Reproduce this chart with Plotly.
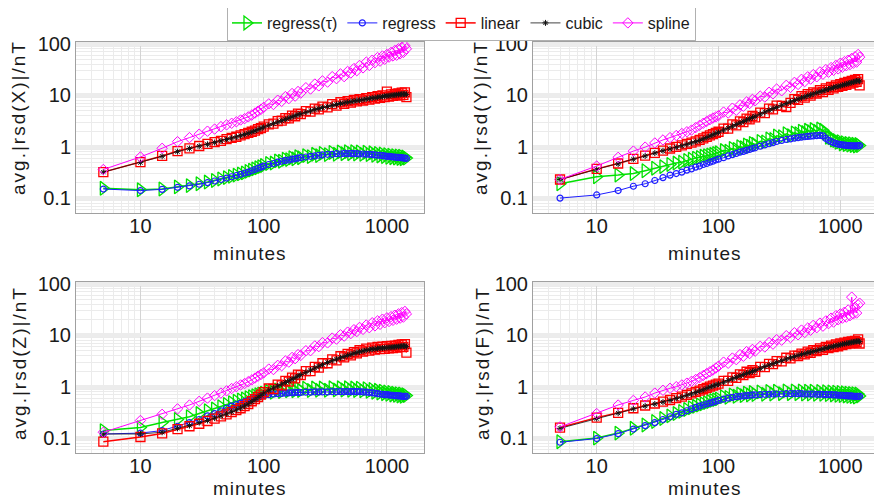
import plotly.graph_objects as go
from plotly.subplots import make_subplots
import math

minutes = [5,10,15,20,25,30,35,40,45,50,55,60,65,70,75,80,85,90,95,100,
           110,120,130,140,150,160,170,180,190,200,
           220,240,260,280,300,
           330,360,390,420,450,480,510,540,570,600,
           640,680,720,760,800,840,880,920,960,1000,
           1040,1080,1120,1160,1200,1240,1280,1320,1360,1400,1440]

series_names = ["regress(τ)", "regress", "linear", "cubic", "spline"]
panel_labels = ["X", "Y", "Z", "F"]
x_title = "minutes"

# ---------- panel X ----------
X_regtau = [0.155,0.145,0.15,0.165,0.175,0.19,0.205,0.22,0.235,0.25,0.265,0.28,0.295,0.31,0.33,0.35,0.37,0.39,0.41,0.43,
            0.47,0.48,0.53,0.52,0.57,0.56,0.61,0.58,0.64,0.61,
            0.67,0.64,0.71,0.67,0.74,
            0.70,0.77,0.71,0.79,0.73,0.80,0.73,0.80,0.72,0.79,
            0.71,0.78,0.70,0.76,0.68,0.74,0.66,0.72,0.64,0.70,
            0.62,0.68,0.61,0.67,0.60,0.66,0.59,0.65,0.58,0.63,0.60]
X_reg = [0.15,0.14,0.148,0.162,0.172,0.186,0.2,0.215,0.23,0.245,0.26,0.275,0.29,0.305,0.32,0.34,0.36,0.38,0.40,0.42,
         0.45,0.47,0.50,0.52,0.54,0.55,0.57,0.58,0.60,0.61,
         0.63,0.65,0.66,0.68,0.69,
         0.71,0.71,0.73,0.72,0.74,0.73,0.74,0.73,0.73,0.72,
         0.72,0.71,0.71,0.70,0.69,0.68,0.68,0.67,0.66,0.65,
         0.65,0.64,0.63,0.63,0.62,0.62,0.61,0.61,0.60,0.60,0.59]
X_lin = [0.32,0.50,0.66,0.82,0.93,1.03,1.13,1.22,1.30,1.40,1.48,1.56,1.65,1.75,1.85,1.95,2.05,2.2,2.3,2.45,
         2.7,2.8,3.15,3.2,3.6,3.55,4.0,3.9,4.4,4.3,
         4.9,4.8,5.5,5.3,6.0,
         5.8,6.7,6.3,7.3,6.8,7.7,7.2,8.1,7.6,8.4,
         7.9,8.8,8.2,9.2,8.6,9.6,8.9,9.9,9.2,11.8,
         9.4,10.4,9.7,10.6,9.9,10.9,10.0,11.2,10.2,11.4,9.2]
X_cub = [0.32,0.49,0.65,0.80,0.92,1.02,1.11,1.2,1.29,1.38,1.46,1.54,1.63,1.72,1.82,1.92,2.02,2.15,2.27,2.4,
         2.6,2.8,3.0,3.2,3.4,3.6,3.8,4.0,4.2,4.35,
         4.65,4.95,5.25,5.5,5.75,
         6.0,6.35,6.6,6.9,7.1,7.3,7.5,7.7,7.9,8.0,
         8.2,8.4,8.6,8.8,9.0,9.1,9.3,9.4,9.6,9.7,
         9.8,9.9,10.0,10.1,10.2,10.3,10.4,10.5,10.5,10.6,10.4]
X_spl = [0.36,0.63,0.93,1.25,1.5,1.75,2.0,2.2,2.45,2.65,2.85,3.05,3.3,3.5,3.8,4.1,4.5,4.9,5.3,5.8,
         6.8,6.6,8.0,7.6,9.4,8.6,10.8,9.6,11.8,11.0,
         14.0,13.2,16.5,15.2,19.0,
         18.0,23,21,26,23,29,27,33,30,38,
         34,44,38,48,43,54,46,58,50,62,
         55,68,58,74,60,80,64,85,68,92,80]

# ---------- panel Y ----------
Y_regtau = [0.19,0.26,0.28,0.30,0.34,0.38,0.41,0.45,0.48,0.50,0.54,0.57,0.60,0.62,0.65,0.67,0.69,0.71,0.74,0.76,
            0.84,0.82,0.92,0.88,1.0,0.96,1.08,1.02,1.16,1.1,
            1.27,1.24,1.42,1.38,1.62,
            1.56,1.78,1.64,1.85,1.78,2.0,1.88,2.08,1.96,2.15,
            2.0,2.22,2.08,1.82,1.52,1.48,1.34,1.32,1.22,1.25,
            1.13,1.19,1.10,1.16,1.07,1.14,1.05,1.12,1.03,1.10,1.05]
Y_reg = [0.10,0.115,0.14,0.17,0.19,0.22,0.25,0.28,0.30,0.32,0.35,0.37,0.40,0.42,0.45,0.47,0.50,0.52,0.55,0.57,
         0.61,0.66,0.70,0.74,0.78,0.81,0.85,0.88,0.92,0.95,
         1.02,1.08,1.14,1.2,1.26,
         1.32,1.38,1.42,1.46,1.5,1.53,1.56,1.58,1.6,1.62,
         1.64,1.65,1.62,1.45,1.33,1.25,1.19,1.15,1.12,1.1,
         1.08,1.07,1.06,1.05,1.05,1.04,1.04,1.04,1.04,1.04,1.05]
Y_lin = [0.23,0.37,0.47,0.58,0.67,0.76,0.84,0.92,0.99,1.06,1.13,1.2,1.27,1.35,1.45,1.55,1.65,1.75,1.85,1.95,
         2.25,2.25,2.7,2.6,3.1,3.0,3.5,3.4,3.95,3.7,
         4.6,4.5,5.5,5.3,6.3,
         6.2,5.9,7.1,8.4,8.1,9.6,9.0,10.5,9.8,11.4,
         10.8,12.5,11.5,13.6,12.7,14.6,13.6,15.5,14.5,16.4,
         15.3,17.3,16.0,18.1,16.8,19.0,17.6,19.8,18.3,20.6,15.5]
Y_cub = [0.23,0.36,0.46,0.57,0.66,0.75,0.83,0.9,0.97,1.04,1.11,1.18,1.25,1.32,1.42,1.5,1.6,1.7,1.8,1.9,
         2.1,2.3,2.5,2.7,2.9,3.1,3.3,3.5,3.7,3.9,
         4.3,4.7,5.1,5.5,5.8,
         6.4,6.9,7.4,7.9,8.4,8.9,9.3,9.8,10.2,10.6,
         11.2,11.7,12.2,12.7,13.2,13.7,14.1,14.5,14.9,15.3,
         15.7,16.1,16.5,16.9,17.3,17.7,18.1,18.5,18.9,19.2,18.8]
Y_spl = [0.23,0.42,0.62,0.82,0.98,1.18,1.35,1.5,1.65,1.8,1.95,2.1,2.35,2.6,2.85,3.1,3.35,3.6,3.8,4.0,
         4.7,4.5,5.6,5.1,6.5,6.1,7.4,6.9,8.3,7.8,
         9.6,9.2,11.4,10.6,13.2,
         12.2,15.6,14.2,17.8,16.2,20.4,18.4,22.8,20.6,25.2,
         22.8,28.4,25.6,31.5,28.0,34.5,30.5,38,32.5,42,
         35,45,37.5,48,39.5,52,42,56,44,62,55]

# ---------- panel Z ----------
Z_regtau = [0.14,0.16,0.20,0.23,0.26,0.30,0.34,0.37,0.41,0.45,0.49,0.52,0.55,0.58,0.61,0.64,0.67,0.70,0.72,0.75,
            0.81,0.78,0.86,0.80,0.89,0.83,0.91,0.83,0.92,0.84,
            0.93,0.84,0.94,0.85,0.94,
            0.85,0.95,0.86,0.95,0.86,0.95,0.85,0.94,0.84,0.93,
            0.83,0.91,0.81,0.88,0.78,0.85,0.75,0.82,0.73,0.79,
            0.71,0.77,0.69,0.75,0.68,0.73,0.66,0.72,0.65,0.70,0.67]
Z_reg = [0.12,0.125,0.14,0.17,0.20,0.23,0.27,0.30,0.34,0.38,0.42,0.45,0.48,0.51,0.54,0.57,0.60,0.63,0.65,0.67,
         0.70,0.72,0.73,0.74,0.75,0.76,0.76,0.77,0.77,0.77,
         0.78,0.78,0.79,0.79,0.79,
         0.79,0.80,0.80,0.80,0.80,0.80,0.80,0.80,0.80,0.80,
         0.79,0.78,0.77,0.76,0.75,0.73,0.72,0.71,0.70,0.70,
         0.69,0.68,0.68,0.67,0.67,0.66,0.66,0.65,0.65,0.65,0.65]
Z_lin = [0.085,0.105,0.123,0.15,0.17,0.19,0.215,0.24,0.265,0.29,0.32,0.35,0.38,0.42,0.46,0.52,0.57,0.63,0.70,0.78,
         0.92,0.9,1.1,1.06,1.3,1.25,1.5,1.45,1.72,1.67,
         2.0,2.0,2.42,2.35,2.85,
         2.85,3.4,3.25,3.9,3.7,4.35,4.05,4.7,4.45,5.1,
         4.8,5.5,5.0,5.75,5.25,5.9,5.35,6.0,5.45,6.1,
         5.55,6.2,5.65,6.3,5.75,6.45,5.85,6.6,5.95,6.7,4.6]
Z_cub = [0.12,0.12,0.13,0.155,0.175,0.20,0.22,0.245,0.27,0.295,0.325,0.355,0.385,0.42,0.46,0.51,0.56,0.62,0.68,0.75,
         0.85,0.94,1.03,1.12,1.21,1.3,1.4,1.5,1.6,1.72,
         1.9,2.1,2.3,2.5,2.68,
         2.95,3.2,3.42,3.65,3.85,4.05,4.25,4.45,4.6,4.75,
         4.95,5.1,5.25,5.35,5.45,5.52,5.58,5.63,5.68,5.73,
         5.78,5.83,5.88,5.93,5.98,6.03,6.08,6.13,6.18,6.22,6.0]
Z_spl = [0.13,0.22,0.29,0.37,0.44,0.52,0.60,0.67,0.75,0.83,0.92,1.0,1.08,1.15,1.25,1.35,1.47,1.6,1.72,1.85,
         2.2,2.15,2.6,2.55,3.15,3.0,3.7,3.5,4.2,4.05,
         5.0,5.0,6.2,6.0,7.2,
         7.1,8.8,8.4,10.2,9.6,11.5,10.8,12.8,11.8,14.2,
         13.0,15.8,14.0,17.5,15.2,19.0,16.3,20.5,17.5,21.8,
         18.5,23,19.5,24.5,20.5,26,21.5,27.5,22.5,29,26]

# ---------- panel F ----------
F_regtau = [0.085,0.10,0.125,0.155,0.18,0.21,0.24,0.27,0.30,0.33,0.36,0.39,0.415,0.44,0.465,0.49,0.515,0.54,0.56,0.58,
            0.64,0.62,0.69,0.65,0.72,0.67,0.75,0.69,0.77,0.70,
            0.79,0.71,0.81,0.72,0.82,
            0.73,0.83,0.73,0.83,0.73,0.83,0.72,0.82,0.72,0.82,
            0.71,0.81,0.71,0.80,0.70,0.79,0.69,0.78,0.68,0.77,
            0.67,0.76,0.66,0.75,0.65,0.74,0.64,0.73,0.63,0.72,0.66]
F_reg = [0.083,0.098,0.122,0.15,0.175,0.20,0.23,0.26,0.29,0.31,0.34,0.37,0.395,0.42,0.44,0.46,0.48,0.50,0.52,0.54,
         0.57,0.60,0.62,0.64,0.65,0.66,0.67,0.68,0.69,0.69,
         0.70,0.71,0.71,0.72,0.72,
         0.72,0.73,0.73,0.73,0.73,0.73,0.72,0.72,0.72,0.72,
         0.71,0.71,0.71,0.70,0.70,0.70,0.69,0.69,0.68,0.68,
         0.68,0.67,0.67,0.66,0.66,0.66,0.65,0.65,0.65,0.65,0.65]
F_lin = [0.16,0.25,0.31,0.38,0.43,0.47,0.51,0.55,0.60,0.64,0.69,0.74,0.79,0.84,0.89,0.95,1.0,1.05,1.1,1.15,
         1.3,1.3,1.52,1.48,1.74,1.68,1.95,1.83,2.1,1.95,
         2.42,2.4,2.78,2.75,3.15,
         3.1,3.65,3.55,4.0,3.95,4.4,4.25,4.8,4.55,5.15,
         4.9,5.55,5.2,5.95,5.6,6.3,5.85,6.6,6.1,6.9,
         6.45,7.2,6.75,7.45,6.9,7.6,7.1,7.8,7.3,8.3,6.9]
F_cub = [0.155,0.24,0.305,0.37,0.42,0.46,0.50,0.54,0.59,0.63,0.68,0.72,0.77,0.82,0.87,0.93,0.98,1.03,1.08,1.12,
         1.22,1.32,1.42,1.52,1.62,1.72,1.82,1.9,1.98,2.07,
         2.27,2.46,2.62,2.8,2.96,
         3.2,3.45,3.65,3.85,4.05,4.25,4.4,4.55,4.7,4.85,
         5.05,5.25,5.45,5.65,5.8,5.95,6.1,6.25,6.4,6.55,
         6.7,6.85,6.95,7.05,7.15,7.3,7.4,7.5,7.6,7.7,7.5]
F_spl = [0.165,0.30,0.44,0.54,0.63,0.75,0.85,0.93,1.0,1.08,1.17,1.27,1.38,1.5,1.65,1.8,1.95,2.1,2.3,2.5,
         3.0,2.85,3.6,3.35,4.2,3.9,4.8,4.4,5.3,4.9,
         6.1,5.9,7.2,6.7,8.2,
         8.0,9.8,9.0,11.2,10.2,12.6,11.3,13.8,12.5,15.6,
         14,17.2,15,19,16.8,21.5,18,24,20,26,
         21.5,28,22.5,31,24,55,26,35,27,39,42]

x_tickvals = [10, 100, 1000]
x_ticktext = ["10", "100", "1000"]
y_tickvals = [0.1, 1, 10, 100]
y_ticktext = ["0.1", "1", "10", "100"]

panels = [
    [X_regtau, X_reg, X_lin, X_cub, X_spl],
    [Y_regtau, Y_reg, Y_lin, Y_cub, Y_spl],
    [Z_regtau, Z_reg, Z_lin, Z_cub, Z_spl],
    [F_regtau, F_reg, F_lin, F_cub, F_spl],
]

styles = [
    dict(color="rgb(0,225,0)", symbol="triangle-right-open", size=12, lw=1.5, mlw=1.3),
    dict(color="rgb(30,30,255)", symbol="circle-open", size=6, lw=1, mlw=1.2),
    dict(color="rgb(255,0,0)", symbol="square-open", size=9, lw=1.5, mlw=1.3),
    dict(color="rgb(20,20,20)", symbol="asterisk-open", size=5, lw=0.8, mlw=1),
    dict(color="rgb(255,0,255)", symbol="diamond-open", size=8, lw=1, mlw=1),
]

fig = make_subplots(rows=2, cols=2)
pos = [(1, 1), (1, 2), (2, 1), (2, 2)]
for p, data in enumerate(panels):
    r, c = pos[p]
    for s, vals in enumerate(data):
        st = styles[s]
        fig.add_trace(go.Scatter(
            x=minutes, y=vals, mode="lines+markers", name=series_names[s],
            legendgroup=series_names[s], showlegend=(p == 0),
            line=dict(color=st["color"], width=st["lw"]),
            marker=dict(symbol=st["symbol"], size=st["size"], color=st["color"],
                        line=dict(color=st["color"], width=st["mlw"])),
        ), row=r, col=c)

# page has an 8px body margin: figure placed at (8, 8)
OFF = 8
W, H = 882 - OFF, 501 - OFF
boxes = [(76, 424, 42, 213), (533, 877, 42, 213), (76, 424, 282, 453), (533, 877, 282, 453)]
ytitle_pos = [(19, 118), (481, 118), (19, 363), (482, 363)]
xtitle_pos = [(250, 254), (705, 254), (250, 488), (705, 488)]
font = "Arial, Liberation Sans, sans-serif"
txt = "#1a1a1a"
minor_x = [m * 10 ** e for e in range(0, 4) for m in range(2, 10)]
minor_y = [m * 10 ** e for e in range(-2, 3) for m in range(2, 10)]

def fx(px):
    return (px - OFF) / W

def fy(py):
    return 1 - (py - OFF) / H

annotations = []
for p in range(4):
    x0, x1, y0, y1 = boxes[p]
    xa = "xaxis" if p == 0 else f"xaxis{p+1}"
    ya = "yaxis" if p == 0 else f"yaxis{p+1}"
    fig.layout[xa].update(
        type="log", domain=[fx(x0), fx(x1)], range=[math.log10(3.0), math.log10(2000)],
        tickvals=x_tickvals, ticktext=x_ticktext, automargin=False,
        showgrid=True, gridcolor="#d4d4d4", gridwidth=1,
        minor=dict(tickvals=minor_x, showgrid=True, gridcolor="#ebebeb", gridwidth=1, ticks=""),
        showline=True, mirror=True, linecolor="#a0a0a0", linewidth=1,
        ticks="", zeroline=False, ticklabelstandoff=-5,
        tickfont=dict(size=20, color=txt, family=font),
    )
    fig.layout[ya].update(
        type="log", domain=[fy(y1), fy(y0)], range=[-1.29, 2.035],
        tickvals=y_tickvals, ticktext=y_ticktext, automargin=False,
        showgrid=True, gridcolor="#ececec", gridwidth=4,
        minor=dict(tickvals=minor_y, showgrid=True, gridcolor="#ebebeb", gridwidth=1, ticks=""),
        showline=True, mirror=True, linecolor="#a0a0a0", linewidth=1,
        ticks="", zeroline=False,
        tickfont=dict(size=20, color=txt, family=font),
    )
    tx, ty = ytitle_pos[p]
    annotations.append(dict(text=f"<span style='letter-spacing:2px'>avg.|rsd({panel_labels[p]})|/nT</span>",
                            x=fx(tx), y=fy(ty),
                            xref="paper", yref="paper", xanchor="center", yanchor="middle",
                            textangle=-90, showarrow=False,
                            font=dict(size=19, color=txt, family=font)))
    mx, my = xtitle_pos[p]
    annotations.append(dict(text=f"<span style='letter-spacing:1px'>{x_title}</span>",
                            x=fx(mx), y=fy(my),
                            xref="paper", yref="paper", xanchor="center", yanchor="middle",
                            showarrow=False, font=dict(size=19, color=txt, family=font)))

fig.update_layout(
    width=W, height=H, margin=dict(l=0, r=0, t=0, b=0, autoexpand=False),
    paper_bgcolor="white", plot_bgcolor="white",
    font=dict(family=font, color=txt),
    annotations=annotations,
    legend=dict(orientation="h", x=fx(461.5), y=fy(5), xanchor="center", yanchor="top",
                bordercolor="#b0b0b0", borderwidth=1, bgcolor="white",
                font=dict(size=16, family=font, color=txt),
                itemwidth=30, tracegroupgap=0),
)

fig.write_html("out.html")
